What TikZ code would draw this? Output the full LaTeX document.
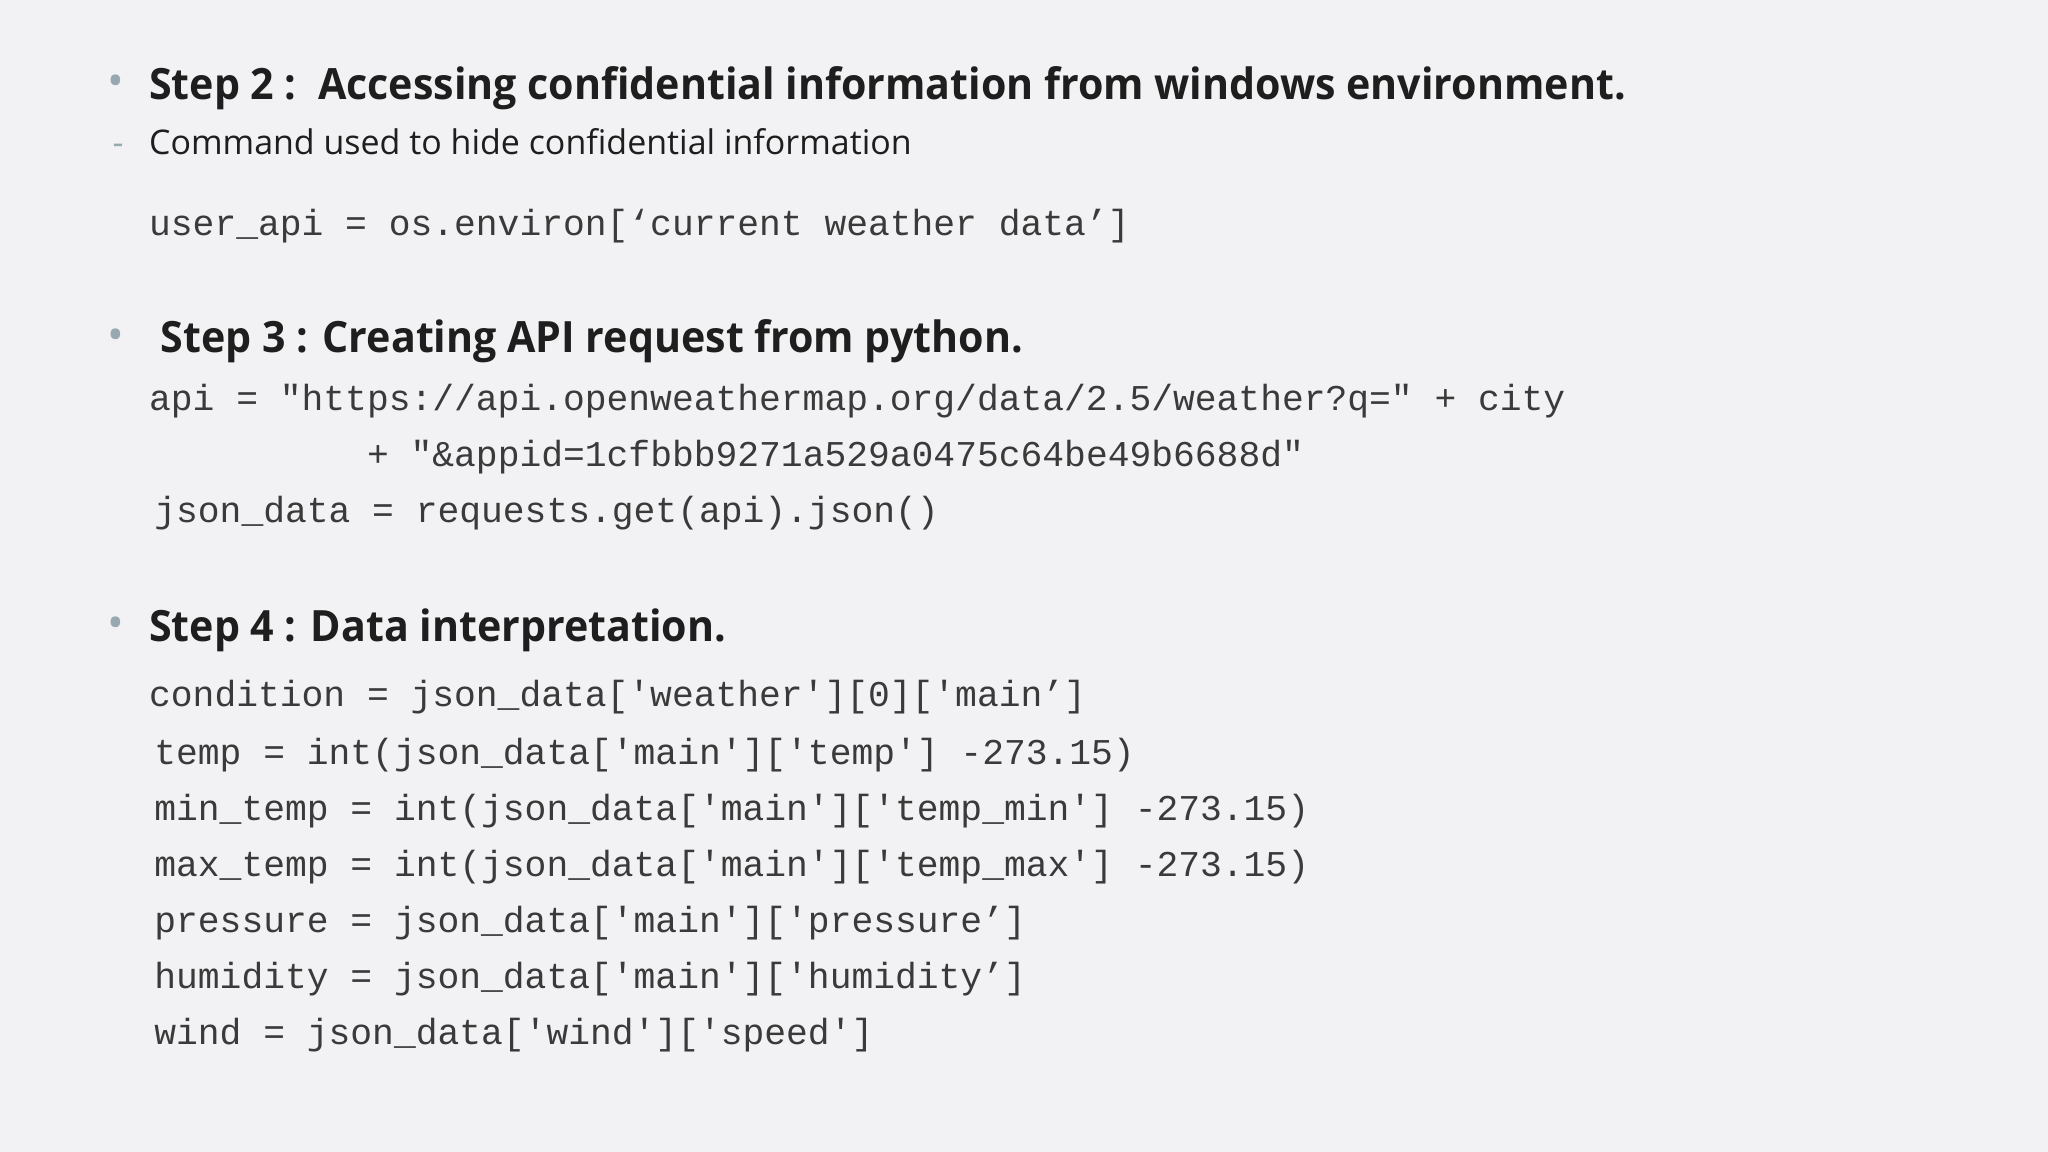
\documentclass[tikz,border=0pt]{standalone}
\usepackage{fontspec}
\usepackage{graphicx}
\setmainfont{Open Sans}
\setmonofont{Liberation Mono}
\definecolor{bg}{HTML}{F2F2F4}
\definecolor{txt}{HTML}{1E1E1E}
\definecolor{code}{HTML}{3A3A3A}
\definecolor{bul}{HTML}{98A8B0}
\newcommand{\hd}[1]{\scalebox{0.955}[1]{#1}}
\begin{document}
\begin{tikzpicture}[x=1pt,y=-1pt,
  head/.style={anchor=base west,inner sep=0,text=txt,font=\bfseries\fontsize{33}{36}\selectfont},
  sub/.style={anchor=base west,inner sep=0,text=txt,font=\fontsize{26}{30}\selectfont},
  cd/.style={anchor=base west,inner sep=0,text=code,font=\ttfamily\fontsize{27.8}{30}\selectfont},
  bl/.style={anchor=base west,inner sep=0,text=bul,font=\fontsize{34}{36}\selectfont}]
\fill[bg] (0,0) rectangle (1568,882);
\useasboundingbox (0,0) rectangle (1568,882);
\node[bl] (b2) at (82,74) {•};
\node[head] (h2) at (114,76) {\hd{Step 2 :\ \ Accessing confidential information from windows environment.}};
\node[bl] (d2) at (86,118) {\fontsize{26}{30}\selectfont -};
\node[sub] (s2) at (114,118) {Command used to hide confidential information};
\node[cd] (c1) at (114,180) {user\_api = os.environ[‘current weather data’]};
\node[bl] (b3) at (82,268) {•};
\node[head] (h3) at (123,270) {\hd{Step 3 : Creating API request from python.}};
\node[cd] (c2) at (114,314) {api = "https://api.openweathermap.org/data/2.5/weather?q=" + city};
\node[cd] (c3) at (114,357) {\phantom{api = "htt}+ "\&appid=1cfbbb9271a529a0475c64be49b6688d"};
\node[cd] (c4) at (118,400) {json\_data = requests.get(api).json()};
\node[bl] (b4) at (82,489) {•};
\node[head] (h4) at (114,491) {\hd{Step 4 : Data interpretation.}};
\node[cd] (e1) at (114,541) {condition = json\_data['weather'][0]['main’]};
\node[cd] (e2) at (118,585) {temp = int(json\_data['main']['temp'] -273.15)};
\node[cd] (e3) at (118,628) {min\_temp = int(json\_data['main']['temp\_min'] -273.15)};
\node[cd] (e4) at (118,671) {max\_temp = int(json\_data['main']['temp\_max'] -273.15)};
\node[cd] (e5) at (118,714) {pressure = json\_data['main']['pressure’]};
\node[cd] (e6) at (118,757) {humidity = json\_data['main']['humidity’]};
\node[cd] (e7) at (118,800) {wind = json\_data['wind']['speed']};
\end{tikzpicture}
\end{document}
